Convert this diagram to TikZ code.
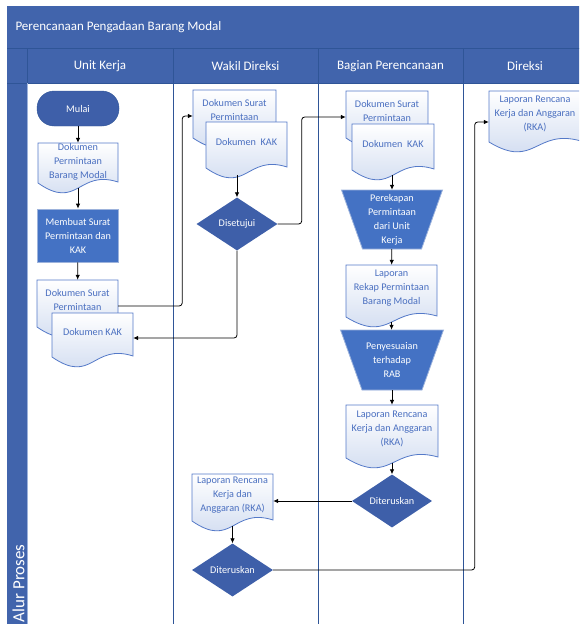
\documentclass[tikz,border=0pt]{standalone}
\usepackage{fontspec}
\setmainfont{Carlito}
\usetikzlibrary{arrows.meta,shapes.geometric}

\definecolor{kop}{HTML}{4164AC}
\definecolor{garis}{HTML}{2F5597}
\definecolor{gelap}{HTML}{3E5FA9}
\definecolor{proses}{HTML}{4472C4}
\definecolor{tepi}{HTML}{9DB3DC}
\definecolor{doktepi}{HTML}{5479C8}
\definecolor{dokisi}{HTML}{C9D6EE}
\definecolor{dokteks}{HTML}{4A6FC0}

% document with wavy bottom: [text raise], name, left, top, width, body height, text
\newcommand{\dokumen}[7][3]{%
  \path[draw=doktepi, line width=0.8pt, top color=white, bottom color=dokisi]
    (#3,#4) -- ({#3+#5},#4) -- ({#3+#5},{#4+#6-1})
    .. controls ({#3+#5/2},{#4+#6-14}) and ({#3+#5/2},{#4+#6+28}) .. (#3,{#4+#6}) -- cycle;
  \node[inner sep=0pt, minimum width=#5pt, minimum height=#6pt] (#2) at ({#3+#5/2},{#4+#6/2}) {};
  \node[doktext] (#2-teks) at ([yshift=#1pt]#2.center) {#7};
}
% upside-down trapezium: name, centre x, top, top half width, bottom half width, height, text
\newcommand{\trapes}[7]{%
  \path[fill=proses, draw=tepi, line width=0.8pt]
    ({#2-#4},#3) -- ({#2+#4},#3) -- ({#2+#5},{#3+#6}) -- ({#2-#5},{#3+#6}) -- cycle;
  \node[putih, minimum height=#6pt] (#1) at (#2,{#3+#6/2}) {#7};
}

\begin{document}
\begin{tikzpicture}[x=1pt, y=-1pt, >={Latex[length=5pt,width=4.5pt]},
  panah/.style={->, line width=0.8pt, rounded corners=3pt},
  putih/.style={text=white, align=center, inner sep=0pt, font=\fontsize{10.2}{14}\selectfont},
  doktext/.style={text=dokteks, align=center, inner sep=0pt, font=\fontsize{10.2}{14}\selectfont},
  kepala/.style={text=white, font=\fontsize{13}{15}\selectfont},
  keputusan/.style={putih, diamond, fill=gelap, minimum width=81pt, minimum height=53pt}]

\clip (0,0) rectangle (579,624);

% Header and lanes
\fill[kop] (7,6) rectangle (590,83);
\fill[kop] (7,83) rectangle (27,630);
\draw[garis, line width=0.8pt] (7,48) -- (590,48) (7,83) -- (590,83);
\foreach \x in {173,318,463}
  \draw[garis, line width=0.8pt] (\x,48) -- (\x,630);
\draw[garis, line width=0.8pt] (27,48) -- (27,83);
\draw[tepi, line width=0.8pt] (27,83) -- (27,630);
\node[kepala, anchor=west] (judul) at (12,27) {Perencanaan Pengadaan Barang Modal};
\node[kepala] (unit) at (100,66) {Unit Kerja};
\node[kepala] (wakil) at (245.5,66) {Wakil Direksi};
\node[kepala] (bagian) at (390.5,66) {Bagian Perencanaan};
\node[kepala] (direksi) at (525,66) {Direksi};
\node[kepala, font=\fontsize{17}{20}\selectfont, rotate=90, anchor=east] (alur) at (18.5,541) {Alur Proses};

% Unit Kerja
\node[putih, rounded corners=17pt, fill=gelap, draw=garis, minimum width=82pt, minimum height=35pt] (mulai) at (78,108.5) {Mulai};
\dokumen[1]{permintaan}{38}{143}{80}{40}{Dokumen\\Permintaan\\Barang Modal}
\node[putih, fill=proses, draw=tepi, line width=0.8pt, minimum width=81pt, minimum height=53pt] (buat) at (78,235.5) {Membuat Surat\\Permintaan dan\\KAK};
\dokumen[3.5]{suratU}{37}{280}{81}{47}{Dokumen Surat\\Permintaan}
\dokumen{kakU}{52}{313}{81}{44}{Dokumen KAK}

% Wakil Direksi
\dokumen[4]{suratW}{193}{90}{83}{48}{Dokumen Surat\\Permintaan}
\dokumen{kakW}{206}{122}{81}{46}{Dokumen~ KAK}
\node[keputusan] (setuju) at (237,224) {Disetujui};
\dokumen[2.5]{rkaW}{192}{474}{81}{47}{Laporan Rencana\\Kerja dan\\Anggaran (RKA)}
\node[keputusan] (teruskanW) at (232.5,570) {Diteruskan};

% Bagian Perencanaan
\dokumen[4]{suratB}{346}{91}{82}{47}{Dokumen Surat\\Permintaan}
\dokumen{kakB}{352}{124}{82}{46}{Dokumen~ KAK}
\trapes{rekap}{392}{190}{50.5}{29.5}{59}{Perekapan\\Permintaan\\dari Unit\\Kerja}
\dokumen{laporan}{346}{265}{91}{52}{Laporan\\Rekap Permintaan\\Barang Modal}
\trapes{sesuai}{392}{330}{51.5}{30}{60}{Penyesuaian\\terhadap\\RAB}
\dokumen[2.5]{rkaB}{346}{405}{92}{53}{Laporan Rencana\\Kerja dan Anggaran\\(RKA)}
\node[keputusan, minimum width=80pt] (teruskanB) at (392,501) {Diteruskan};

% Direksi
\dokumen{rkaD}{489}{91}{92}{51}{Laporan Rencana\\Kerja dan Anggaran\\(RKA)}

% Connectors
\draw[panah] (mulai) -- (permintaan);
\draw[panah] ([yshift=-5pt]permintaan.south) -- (buat);
\draw[panah] (buat) -- (suratU);
\draw[panah] ([yshift=-2.5pt]suratU.east) -- ++(64,0) |- ([yshift=-2pt]suratW.west);
\draw[panah] ([yshift=-7pt]setuju.north |- kakW.south) -- (setuju);
\draw[panah] (setuju.south) |- ([yshift=-3pt]kakU.east);
\draw[panah] (setuju.east) -- ++(24,0) |- ([yshift=-2.5pt]suratB.west);
\draw[panah] ([yshift=-5pt]rekap.north |- kakB.south) -- (rekap);
\draw[panah] (rekap) -- (laporan);
\draw[panah] ([yshift=-5pt]laporan.south) -- (sesuai);
\draw[panah] (sesuai) -- (rkaB);
\draw[panah] ([yshift=-5pt]rkaB.south) -- (teruskanB);
\draw[panah] (teruskanB.west) -- (teruskanB.west -| rkaW.east);
\draw[panah] ([yshift=-5pt]rkaW.south) -- (teruskanW);
\draw[panah] (teruskanW.east) -- ++(201.5,0) |- ([yshift=-5.5pt]rkaD.west);

\end{tikzpicture}
\end{document}
